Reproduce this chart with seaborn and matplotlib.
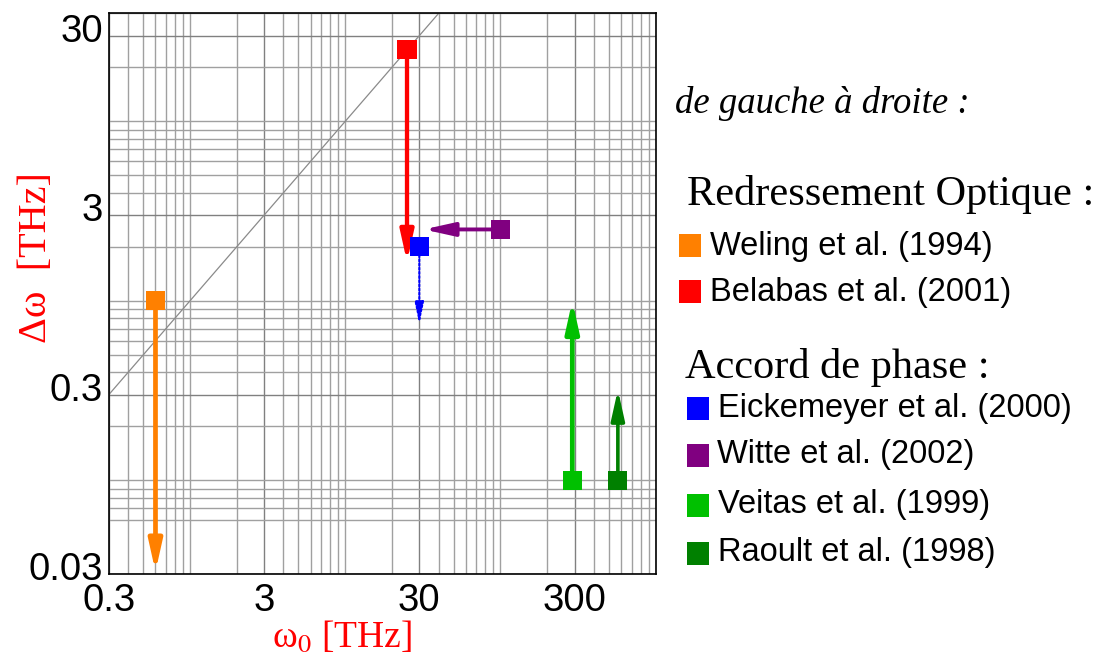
import numpy as np
import pandas as pd
import seaborn as sns
import matplotlib.pyplot as plt
import matplotlib.transforms as mtransforms
from matplotlib.ticker import FixedLocator, NullFormatter
from matplotlib.patches import Rectangle

sns.set_style("white")
plt.rcParams['font.family'] = ['Liberation Sans', 'DejaVu Sans']
plt.rcParams['mathtext.fontset'] = 'stix'
plt.rcParams['text.color'] = 'black'
plt.rcParams['xtick.color'] = 'black'
plt.rcParams['ytick.color'] = 'black'
SERIF = ['Liberation Serif', 'DejaVu Serif']

# data
refs = ['Weling et al. (1994)', 'Belabas et al. (2001)',
        'Eickemeyer et al. (2000)', 'Witte et al. (2002)',
        'Veitas et al. (1999)', 'Raoult et al. (1998)']
omega0 = [0.6, 25, 30, 100, 290, 570]          # start point, x
domega = [1.0, 25, 2.0, 2.5, 0.1, 0.1]         # start point, y
omega0_end = [0.6, 25, 30, 32, 290, 570]       # arrow tip, x
domega_end = [0.031, 1.65, 0.74, 2.5, 1.0, 0.32]  # arrow tip, y
colors = ['#ff8000', '#ff0000', '#0000ff', '#800080', '#00c000', '#008000']
arrow_lw = [3.4, 3.1, 1.5, 2.8, 3.4, 2.6]
arrow_ls = ['-', '-', (0, (1, 1)), '-', '-', '-']
diag = [0.3, 40]

x_ticks = [0.3, 3, 30, 300]
y_ticks = [0.03, 0.3, 3, 30]
x_grid = np.concatenate([np.arange(3, 10) * 0.1, np.arange(1, 10),
                         np.arange(10, 100, 10), np.arange(100, 1001, 100)])
y_grid = np.concatenate([np.arange(6, 10) * 0.01, np.arange(1, 10) * 0.1,
                         np.arange(1, 10), np.arange(10, 41, 10)])

df = pd.DataFrame({'ref': refs, 'w0': omega0, 'dw': domega})

fig = plt.figure(figsize=(11.04, 6.63), dpi=100)
ax = fig.add_axes([0.0985, 0.1338, 0.4955, 0.8462])
ax.set_xscale('log')
ax.set_yscale('log')
ax.set_xlim(0.3, 1000)
ax.set_ylim(0.03, 40)

# grid
ax.xaxis.set_major_locator(FixedLocator(x_ticks))
ax.yaxis.set_major_locator(FixedLocator(y_ticks))
ax.xaxis.set_minor_locator(FixedLocator(x_grid))
ax.yaxis.set_minor_locator(FixedLocator(y_grid))
ax.xaxis.set_minor_formatter(NullFormatter())
ax.yaxis.set_minor_formatter(NullFormatter())
ax.set_xticklabels(['0.3', '3', '30', '300'])
ax.set_yticklabels(['0.03', '0.3', '3', '30'])
ax.grid(True, which='major', color='#808080', lw=1.0)
ax.grid(True, which='minor', color='#a0a0a0', lw=1.0)
ax.set_axisbelow(True)
ax.tick_params(which='both', length=0, labelsize=27.5, labelcolor='black')
ax.tick_params(axis='y', pad=4)
ax.tick_params(axis='x', pad=6)
# y tick labels sit a little above their grid line in the original
up = mtransforms.ScaledTranslation(0, 8 / 100, fig.dpi_scale_trans)
for lab in ax.get_yticklabels():
    lab.set_transform(lab.get_transform() + up)
for sp in ax.spines.values():
    sp.set_color('black')
    sp.set_linewidth(1.2)

# y = x line
sns.lineplot(x=diag, y=diag, color='#8a8a8a', lw=0.9, ax=ax, zorder=2)

# arrows
for i in range(len(refs)):
    if arrow_lw[i] < 2:
        hs = '-|>,head_length=1.3,head_width=0.27'
    else:
        hs = '-|>,head_length=1.8,head_width=0.4'
    ax.annotate('', xy=(omega0_end[i], domega_end[i]),
                xytext=(omega0[i], domega[i]),
                arrowprops=dict(arrowstyle=hs, color=colors[i], lw=arrow_lw[i],
                                ls=arrow_ls[i], shrinkA=0, shrinkB=0,
                                mutation_scale=10),
                annotation_clip=False, zorder=3)

# square markers
sns.scatterplot(data=df, x='w0', y='dw', hue='ref', palette=colors,
                marker='s', s=190, linewidth=0, legend=False, ax=ax, zorder=4)

ax.set_xlabel('ω$_0$ [THz]', color='red', fontsize=27, family=SERIF)
ax.xaxis.set_label_coords(0.4265, -0.08)
ax.set_ylabel('Δω  [THz]', color='red', fontsize=29, family=SERIF)
ax.yaxis.set_label_coords(-0.098, 0.564)

# legend on the right
W, H = 1104.0, 663.0
fig.text(675 / W, 1 - 113 / H, 'de gauche à droite :', fontsize=26.5,
         style='italic', family=SERIF, va='baseline')
fig.text(687 / W, 1 - 205 / H, 'Redressement Optique :', fontsize=30.5,
         family=SERIF, va='baseline')
fig.text(685 / W, 1 - 378 / H, 'Accord de phase :', fontsize=30.5,
         family=SERIF, va='baseline')

sq_x = [679, 679, 687, 687, 687, 687]
txt_x = [710, 710, 718, 717, 718, 718]
row_y = [246, 292, 408, 455, 505, 553]
for i in range(len(refs)):
    fig.add_artist(Rectangle((sq_x[i] / W, 1 - (row_y[i] + 11.5) / H),
                             22 / W, 23 / H, transform=fig.transFigure,
                             color=colors[i], lw=0))
    fig.text(txt_x[i] / W, 1 - row_y[i] / H, refs[i], fontsize=23.5,
             va='center')

fig.savefig('out.png', dpi=100)
